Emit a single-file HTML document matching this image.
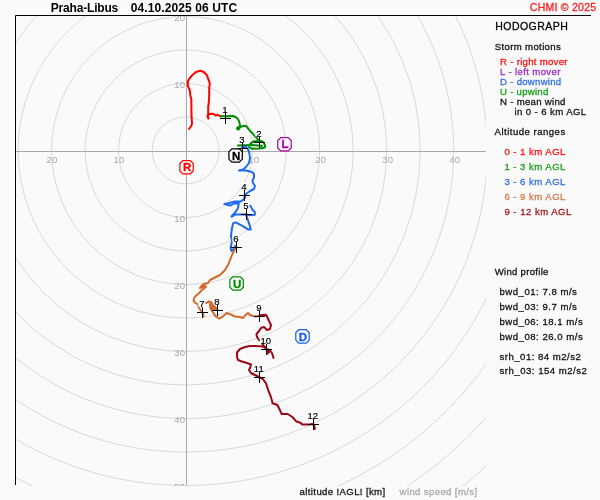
<!DOCTYPE html><html><head><meta charset="utf-8"><style>html,body{margin:0;padding:0;background:#fafafa;width:600px;height:500px;overflow:hidden}svg{display:block;will-change:transform;font-family:"Liberation Sans",sans-serif}</style></head><body>
<svg width="600" height="500" viewBox="0 0 600 500">
<rect width="600" height="500" fill="#fafafa"/>
<defs><clipPath id="pc"><rect x="16" y="16" width="470" height="470"/></clipPath></defs>
<g clip-path="url(#pc)">
<circle cx="185.65" cy="150.46" r="33.51" fill="none" stroke="#d9d9d9" stroke-width="1"/>
<circle cx="185.65" cy="150.46" r="67.02" fill="none" stroke="#d9d9d9" stroke-width="1"/>
<circle cx="185.65" cy="150.46" r="100.53" fill="none" stroke="#d9d9d9" stroke-width="1"/>
<circle cx="185.65" cy="150.46" r="134.04" fill="none" stroke="#d9d9d9" stroke-width="1"/>
<circle cx="185.65" cy="150.46" r="167.55" fill="none" stroke="#d9d9d9" stroke-width="1"/>
<circle cx="185.65" cy="150.46" r="201.06" fill="none" stroke="#d9d9d9" stroke-width="1"/>
<circle cx="185.65" cy="150.46" r="234.57" fill="none" stroke="#d9d9d9" stroke-width="1"/>
<circle cx="185.65" cy="150.46" r="268.08" fill="none" stroke="#d9d9d9" stroke-width="1"/>
<circle cx="185.65" cy="150.46" r="301.59" fill="none" stroke="#d9d9d9" stroke-width="1"/>
<circle cx="185.65" cy="150.46" r="335.10" fill="none" stroke="#d9d9d9" stroke-width="1"/>
<circle cx="185.65" cy="150.46" r="368.61" fill="none" stroke="#d9d9d9" stroke-width="1"/>
<circle cx="185.65" cy="150.46" r="402.12" fill="none" stroke="#d9d9d9" stroke-width="1"/>
<circle cx="185.65" cy="150.46" r="435.63" fill="none" stroke="#d9d9d9" stroke-width="1"/>
<circle cx="185.65" cy="150.46" r="469.14" fill="none" stroke="#d9d9d9" stroke-width="1"/>
<line x1="16" y1="151.5" x2="486" y2="151.5" stroke="#a8a8a8" stroke-width="1"/>
<line x1="186.5" y1="16" x2="186.5" y2="485" stroke="#a8a8a8" stroke-width="1"/>
<text x="253.7" y="163" font-size="9.6" fill="#a8a8a8" text-anchor="middle">10</text>
<text x="320.7" y="163" font-size="9.6" fill="#a8a8a8" text-anchor="middle">20</text>
<text x="387.7" y="163" font-size="9.6" fill="#a8a8a8" text-anchor="middle">30</text>
<text x="454.7" y="163" font-size="9.6" fill="#a8a8a8" text-anchor="middle">40</text>
<text x="118.9" y="163" font-size="9.6" fill="#a8a8a8" text-anchor="middle">10</text>
<text x="51.9" y="163" font-size="9.6" fill="#a8a8a8" text-anchor="middle">20</text>
<text x="185" y="87.9" font-size="9.6" fill="#a8a8a8" text-anchor="end">10</text>
<text x="185" y="20.9" font-size="9.6" fill="#a8a8a8" text-anchor="end">20</text>
<text x="185" y="222.3" font-size="9.6" fill="#a8a8a8" text-anchor="end">10</text>
<text x="185" y="289.4" font-size="9.6" fill="#a8a8a8" text-anchor="end">20</text>
<text x="185" y="356.4" font-size="9.6" fill="#a8a8a8" text-anchor="end">30</text>
<text x="185" y="423.4" font-size="9.6" fill="#a8a8a8" text-anchor="end">40</text>
<text x="185" y="490.4" font-size="9.6" fill="#a8a8a8" text-anchor="end">50</text>
</g>
<path d="M15.5,485 V15.5 H591" fill="none" stroke="#000" stroke-width="1"/>
<polyline points="189.0,129.0 191.3,126.0 192.0,123.7 191.5,115.0 191.3,99.0 190.5,96.0 189.7,90.0 187.9,85.8 187.9,81.0 189.4,78.6 192.4,75.0 196.0,72.0 200.2,70.8 203.8,72.0 206.8,75.0 208.3,79.2 209.8,83.4 209.2,88.2 209.2,96.0 208.6,105.2 208.2,105.6 208.2,114.0 208.4,118.7 207.5,116.5 208.2,114.0 213.2,113.7 215.5,115.6 217.8,114.8 220.2,116.2 221.5,116.2" fill="none" stroke="#ff0000" stroke-width="2.0" stroke-linejoin="round" stroke-linecap="round"/>
<polyline points="221.0,116.2 225.5,116.2 233.2,116.0 236.5,117.5 238.5,120.0 239.6,123.0 240.0,126.2 237.6,128.6 242.0,126.2 246.0,125.8 249.2,129.8 253.2,134.2 257.6,139.2 260.0,140.8 262.8,141.6 265.2,145.6 264.8,147.6 260.0,148.4 252.0,148.8 249.0,147.0" fill="none" stroke="#008c00" stroke-width="2.0" stroke-linejoin="round" stroke-linecap="round"/>
<polyline points="262.0,145.8 252.0,145.0 238.0,145.6" fill="none" stroke="#008c00" stroke-width="2.0" stroke-linejoin="round" stroke-linecap="round"/>
<polyline points="250.4,143.6 254.0,141.2 260.0,141.2" fill="none" stroke="#008c00" stroke-width="2.0" stroke-linejoin="round" stroke-linecap="round"/>
<circle cx="238.2" cy="128.4" r="2.1" fill="#008c00"/>
<polyline points="242.0,147.0 246.0,147.0 248.5,150.0 249.5,154.0 250.0,158.0 249.0,163.0 246.0,167.0 243.0,169.5 239.0,170.5 246.0,170.5 252.0,172.0 254.0,174.0 254.0,178.0 252.5,180.0 253.0,183.0 255.0,186.0 254.0,189.0 250.0,191.0 246.0,194.0 244.5,197.0 245.2,197.6 242.8,200.0 240.4,201.6 234.0,201.6 228.4,203.2 224.4,204.0 230.0,205.6 234.0,203.6 238.8,203.2 238.0,208.0 235.6,212.0 232.4,215.2 231.6,216.8 235.6,214.4 241.2,214.4 246.0,214.4 250.0,215.2 254.8,214.8 254.8,212.0 252.4,209.6 250.8,206.4 250.0,205.6" fill="none" stroke="#1f6bf0" stroke-width="2.0" stroke-linejoin="round" stroke-linecap="round"/>
<polyline points="246.0,214.4 246.8,216.8 248.4,221.6 250.0,226.4 250.8,229.6 248.4,229.6 242.0,225.6 235.6,222.4 233.2,223.2 232.0,228.0 231.2,233.6 231.0,237.0 232.0,240.0 231.5,244.0 230.5,248.0 231.5,251.0 233.5,249.0 235.0,246.0 236.5,247.5" fill="none" stroke="#1f6bf0" stroke-width="2.0" stroke-linejoin="round" stroke-linecap="round"/>
<polyline points="236.5,247.5 234.0,250.5 232.0,255.0 230.0,260.0 228.0,265.0 225.0,270.0 220.0,275.0 215.0,277.5 210.0,280.0 208.0,283.0 203.0,284.5 200.0,288.0 205.0,286.0 206.0,287.0 202.0,290.0 199.0,293.3 195.8,295.8 194.2,298.3 193.5,300.8 195.5,303.0 198.0,304.5 199.0,308.0 200.5,310.0 201.5,311.5 203.0,313.5 203.5,316.5" fill="none" stroke="#d2692e" stroke-width="2.0" stroke-linejoin="round" stroke-linecap="round"/>
<polyline points="201.0,304.2 206.5,302.8 209.0,301.5 211.5,302.5 212.5,304.0 214.0,306.0 216.0,308.0 217.5,310.0" fill="none" stroke="#d2692e" stroke-width="2.0" stroke-linejoin="round" stroke-linecap="round"/>
<polyline points="210.0,305.0 210.5,308.5 212.0,311.0 213.5,313.0 215.0,315.5 216.5,317.0 219.0,318.5 221.5,317.5 224.0,315.5 226.7,313.0 230.0,314.2 235.0,316.5 240.0,317.0 243.0,318.0 245.0,315.5 248.0,313.0 250.0,315.0 253.0,316.0 255.0,316.5 259.5,316.0" fill="none" stroke="#d2692e" stroke-width="2.0" stroke-linejoin="round" stroke-linecap="round"/>
<polygon points="209,302.5 212,302.5 216,308 216.5,311 212.5,311 210,308" fill="#d2692e"/>
<polyline points="259.5,315.3 266.0,314.8 267.5,317.5 269.0,321.0 271.0,325.0 270.0,329.0 267.0,330.0 264.0,327.0 261.0,328.0 259.0,331.0 256.5,334.0 257.0,337.0 259.0,340.0 261.0,341.0 263.0,345.0 266.5,349.0 270.0,350.5 272.0,353.0 273.5,358.0" fill="none" stroke="#9a0a14" stroke-width="2.0" stroke-linejoin="round" stroke-linecap="round"/>
<polyline points="266.5,349.5 267.5,353.5 270.0,351.0" fill="none" stroke="#9a0a14" stroke-width="2.0" stroke-linejoin="round" stroke-linecap="round"/>
<polyline points="266.0,348.0 263.0,346.5 255.0,346.0 250.0,346.0 245.0,347.0 240.0,349.0 237.0,352.5 237.0,357.0 238.0,360.0 242.0,361.5 247.0,363.0 251.0,364.5 250.0,368.0 249.0,370.0 251.0,373.0 255.0,375.0 259.0,377.0 263.0,379.2 266.0,383.4 268.4,390.6 270.8,396.6 272.6,403.2 277.4,405.0 279.8,409.8 281.6,414.0 287.6,414.0 292.4,417.0 296.0,421.2 300.8,423.0 302.2,424.5 310.0,424.5 311.8,423.9 314.2,425.4 314.8,429.0" fill="none" stroke="#9a0a14" stroke-width="2.0" stroke-linejoin="round" stroke-linecap="round"/>
<path d="M220.0,118.5 H231.0 M225.5,113.0 V124.0" stroke="#000" stroke-width="1"/>
<path d="M254.0,142.5 H265.0 M259.5,137.0 V148.0" stroke="#000" stroke-width="1"/>
<path d="M237.0,148.5 H248.0 M242.5,143.0 V154.0" stroke="#000" stroke-width="1"/>
<path d="M239.0,195.5 H250.0 M244.5,190.0 V201.0" stroke="#000" stroke-width="1"/>
<path d="M241.0,214.5 H252.0 M246.5,209.0 V220.0" stroke="#000" stroke-width="1"/>
<path d="M231.0,247.5 H242.0 M236.5,242.0 V253.0" stroke="#000" stroke-width="1"/>
<path d="M197.0,312.5 H208.0 M202.5,307.0 V318.0" stroke="#000" stroke-width="1"/>
<path d="M212.0,310.5 H223.0 M217.5,305.0 V316.0" stroke="#000" stroke-width="1"/>
<path d="M254.0,316.5 H265.0 M259.5,311.0 V322.0" stroke="#000" stroke-width="1"/>
<path d="M261.0,349.5 H272.0 M266.5,344.0 V355.0" stroke="#000" stroke-width="1"/>
<path d="M254.0,377.5 H265.0 M259.5,372.0 V383.0" stroke="#000" stroke-width="1"/>
<path d="M308.0,424.5 H319.0 M313.5,419.0 V430.0" stroke="#000" stroke-width="1"/>
<rect x="221.3" y="105.9" width="7" height="6.6" fill="#fff"/>
<text x="224.8" y="112.7" font-size="9.6" fill="#000" stroke="#000" stroke-width="0.2" text-anchor="middle">1</text>
<rect x="255.3" y="129.9" width="7" height="6.6" fill="#fff"/>
<text x="258.8" y="136.7" font-size="9.6" fill="#000" stroke="#000" stroke-width="0.2" text-anchor="middle">2</text>
<rect x="238.3" y="135.9" width="7" height="6.6" fill="#fff"/>
<text x="241.8" y="142.7" font-size="9.6" fill="#000" stroke="#000" stroke-width="0.2" text-anchor="middle">3</text>
<rect x="240.3" y="182.9" width="7" height="6.6" fill="#fff"/>
<text x="243.8" y="189.7" font-size="9.6" fill="#000" stroke="#000" stroke-width="0.2" text-anchor="middle">4</text>
<rect x="242.3" y="201.9" width="7" height="6.6" fill="#fff"/>
<text x="245.8" y="208.7" font-size="9.6" fill="#000" stroke="#000" stroke-width="0.2" text-anchor="middle">5</text>
<rect x="232.3" y="234.9" width="7" height="6.6" fill="#fff"/>
<text x="235.8" y="241.7" font-size="9.6" fill="#000" stroke="#000" stroke-width="0.2" text-anchor="middle">6</text>
<rect x="198.3" y="299.9" width="7" height="6.6" fill="#fff"/>
<text x="201.8" y="306.7" font-size="9.6" fill="#000" stroke="#000" stroke-width="0.2" text-anchor="middle">7</text>
<rect x="213.3" y="297.9" width="7" height="6.6" fill="#fff"/>
<text x="216.8" y="304.7" font-size="9.6" fill="#000" stroke="#000" stroke-width="0.2" text-anchor="middle">8</text>
<rect x="255.3" y="303.9" width="7" height="6.6" fill="#fff"/>
<text x="258.8" y="310.7" font-size="9.6" fill="#000" stroke="#000" stroke-width="0.2" text-anchor="middle">9</text>
<rect x="259.8" y="336.9" width="12" height="6.6" fill="#fff"/>
<text x="265.8" y="343.7" font-size="9.6" fill="#000" stroke="#000" stroke-width="0.2" text-anchor="middle">10</text>
<rect x="252.8" y="364.9" width="12" height="6.6" fill="#fff"/>
<text x="258.8" y="371.7" font-size="9.6" fill="#000" stroke="#000" stroke-width="0.2" text-anchor="middle">11</text>
<rect x="306.8" y="411.9" width="12" height="6.6" fill="#fff"/>
<text x="312.8" y="418.7" font-size="9.6" fill="#000" stroke="#000" stroke-width="0.2" text-anchor="middle">12</text>
<polygon points="182.9,160.6 190.2,160.6 193.2,163.6 193.2,170.9 190.2,173.9 182.9,173.9 179.9,170.9 179.9,163.6" fill="#fff" stroke="#ff0000" stroke-width="1.25"/><text x="187.1" y="171.4" font-size="11.5" font-weight="bold" fill="#ff0000" stroke="#ff0000" stroke-width="0.3" text-anchor="middle">R</text>
<polygon points="280.8,137.6 288.2,137.6 291.2,140.6 291.2,147.9 288.2,150.9 280.8,150.9 277.8,147.9 277.8,140.6" fill="#fff" stroke="#aa00aa" stroke-width="1.25"/><text x="285.0" y="148.4" font-size="11.5" font-weight="bold" fill="#aa00aa" stroke="#aa00aa" stroke-width="0.3" text-anchor="middle">L</text>
<polygon points="298.8,329.7 306.2,329.7 309.2,332.7 309.2,340.1 306.2,343.1 298.8,343.1 295.8,340.1 295.8,332.7" fill="#fff" stroke="#1a5fe8" stroke-width="1.25"/><text x="303.0" y="340.6" font-size="11.5" font-weight="bold" fill="#1a5fe8" stroke="#1a5fe8" stroke-width="0.3" text-anchor="middle">D</text>
<polygon points="232.9,276.8 240.3,276.8 243.3,279.8 243.3,287.2 240.3,290.2 232.9,290.2 229.9,287.2 229.9,279.8" fill="#fff" stroke="#008c00" stroke-width="1.25"/><text x="237.1" y="287.7" font-size="11.5" font-weight="bold" fill="#008c00" stroke="#008c00" stroke-width="0.3" text-anchor="middle">U</text>
<polygon points="231.9,148.8 239.3,148.8 242.3,151.8 242.3,159.1 239.3,162.1 231.9,162.1 228.9,159.1 228.9,151.8" fill="#fff" stroke="#000000" stroke-width="1.25"/><text x="236.1" y="159.6" font-size="11.5" font-weight="bold" fill="#000000" stroke="#000000" stroke-width="0.3" text-anchor="middle">N</text>
<text x="50.65" y="11.70" font-size="12" font-weight="bold" fill="#000" stroke="#000" stroke-width="0.0" textLength="67.65" lengthAdjust="spacing">Praha-Libus</text>
<text x="130.65" y="11.70" font-size="12" font-weight="bold" fill="#000" stroke="#000" stroke-width="0.0" textLength="106.45" lengthAdjust="spacing">04.10.2025 06 UTC</text>
<text x="529.80" y="10.70" font-size="10.559999999999999" font-weight="normal" fill="#ff1a1a" stroke="#ff1a1a" stroke-width="0.28" textLength="66.30" lengthAdjust="spacing">CHMI © 2025</text>
<text x="495.20" y="30.00" font-size="10.559999999999999" font-weight="normal" fill="#000" stroke="#000" stroke-width="0.28" textLength="72.70" lengthAdjust="spacing">HODOGRAPH</text>
<text x="494.70" y="49.70" font-size="9.6" font-weight="normal" fill="#111" stroke="#111" stroke-width="0.28" textLength="66.10" lengthAdjust="spacing">Storm motions</text>
<text x="500.10" y="64.60" font-size="9.6" font-weight="normal" fill="#ff1010" stroke="#ff1010" stroke-width="0.28" textLength="67.40" lengthAdjust="spacing">R - right mover</text>
<text x="500.10" y="74.60" font-size="9.6" font-weight="normal" fill="#9a2ac8" stroke="#9a2ac8" stroke-width="0.28" textLength="60.30" lengthAdjust="spacing">L - left mover</text>
<text x="500.10" y="84.60" font-size="9.6" font-weight="normal" fill="#2f6fe6" stroke="#2f6fe6" stroke-width="0.28" textLength="61.10" lengthAdjust="spacing">D - downwind</text>
<text x="500.10" y="94.60" font-size="9.6" font-weight="normal" fill="#18a018" stroke="#18a018" stroke-width="0.28" textLength="48.20" lengthAdjust="spacing">U - upwind</text>
<text x="500.10" y="104.60" font-size="9.6" font-weight="normal" fill="#111" stroke="#111" stroke-width="0.28" textLength="65.30" lengthAdjust="spacing">N - mean wind</text>
<text x="514.40" y="114.60" font-size="9.6" font-weight="normal" fill="#111" stroke="#111" stroke-width="0.28" textLength="71.80" lengthAdjust="spacing">in 0 - 6 km AGL</text>
<text x="494.60" y="134.90" font-size="9.6" font-weight="normal" fill="#111" stroke="#111" stroke-width="0.28" textLength="70.60" lengthAdjust="spacing">Altitude ranges</text>
<text x="504.40" y="154.50" font-size="9.6" font-weight="normal" fill="#ff1010" stroke="#ff1010" stroke-width="0.28" textLength="61.00" lengthAdjust="spacing">0 - 1 km AGL</text>
<text x="504.40" y="169.50" font-size="9.6" font-weight="normal" fill="#18a018" stroke="#18a018" stroke-width="0.28" textLength="61.00" lengthAdjust="spacing">1 - 3 km AGL</text>
<text x="504.40" y="184.50" font-size="9.6" font-weight="normal" fill="#2f6fe6" stroke="#2f6fe6" stroke-width="0.28" textLength="61.00" lengthAdjust="spacing">3 - 6 km AGL</text>
<text x="504.40" y="199.50" font-size="9.6" font-weight="normal" fill="#d07a4a" stroke="#d07a4a" stroke-width="0.28" textLength="61.00" lengthAdjust="spacing">6 - 9 km AGL</text>
<text x="504.40" y="214.50" font-size="9.6" font-weight="normal" fill="#a01818" stroke="#a01818" stroke-width="0.28" textLength="67.00" lengthAdjust="spacing">9 - 12 km AGL</text>
<text x="494.70" y="275.00" font-size="9.6" font-weight="normal" fill="#111" stroke="#111" stroke-width="0.28" textLength="53.70" lengthAdjust="spacing">Wind profile</text>
<text x="499.50" y="294.90" font-size="9.6" font-weight="normal" fill="#111" stroke="#111" stroke-width="0.28" textLength="77.40" lengthAdjust="spacing">bwd_01: 7.8 m/s</text>
<text x="499.50" y="309.50" font-size="9.6" font-weight="normal" fill="#111" stroke="#111" stroke-width="0.28" textLength="77.40" lengthAdjust="spacing">bwd_03: 9.7 m/s</text>
<text x="499.50" y="324.70" font-size="9.6" font-weight="normal" fill="#111" stroke="#111" stroke-width="0.28" textLength="83.20" lengthAdjust="spacing">bwd_06: 18.1 m/s</text>
<text x="499.50" y="339.50" font-size="9.6" font-weight="normal" fill="#111" stroke="#111" stroke-width="0.28" textLength="83.20" lengthAdjust="spacing">bwd_08: 26.0 m/s</text>
<text x="499.50" y="360.00" font-size="9.6" font-weight="normal" fill="#111" stroke="#111" stroke-width="0.28" textLength="81.30" lengthAdjust="spacing">srh_01: 84 m2/s2</text>
<text x="499.50" y="374.10" font-size="9.6" font-weight="normal" fill="#111" stroke="#111" stroke-width="0.28" textLength="87.40" lengthAdjust="spacing">srh_03: 154 m2/s2</text>
<text x="299.60" y="494.80" font-size="9.6" font-weight="normal" fill="#111" stroke="#111" stroke-width="0.28" textLength="85.55" lengthAdjust="spacing">altitude !AGL! [km]</text>
<text x="399.60" y="494.80" font-size="9.6" font-weight="normal" fill="#aaaaaa" stroke="#aaaaaa" stroke-width="0.28" textLength="77.50" lengthAdjust="spacing">wind speed [m/s]</text>
</svg></body></html>
